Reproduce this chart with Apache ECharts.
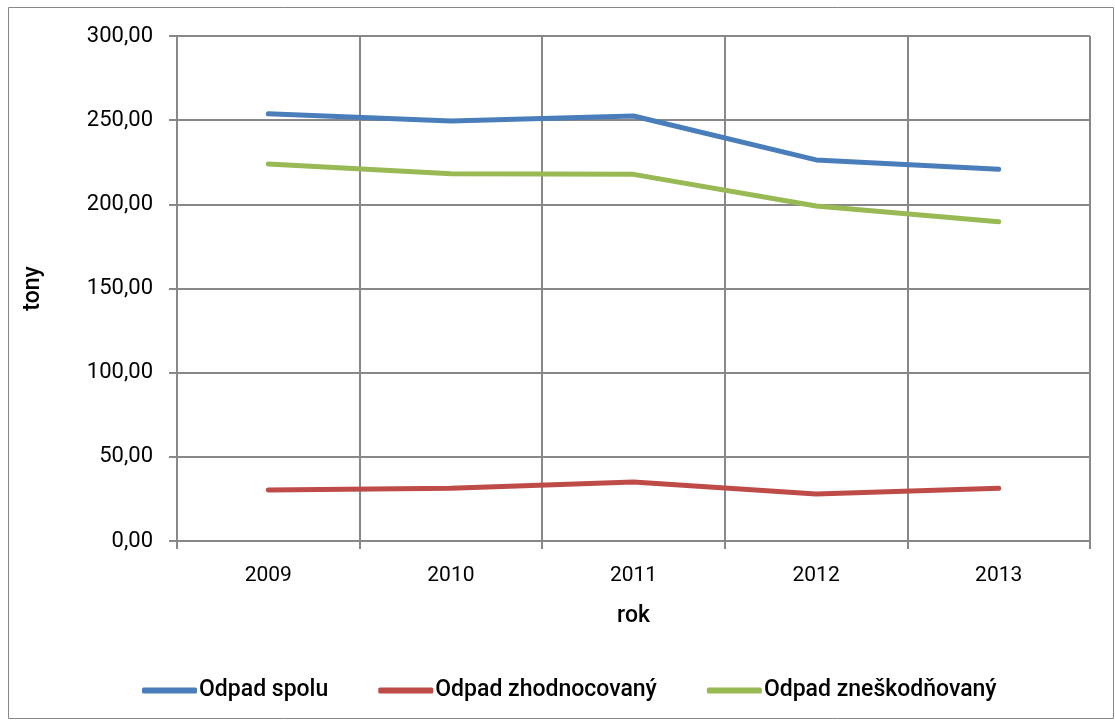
<!DOCTYPE html>
<html><head><meta charset="utf-8">
<script src="https://cdn.jsdelivr.net/npm/echarts@6/dist/echarts.min.js"></script>
<style>html,body{margin:0;padding:0;background:#fff}#c{width:1115px;height:720px}</style>
</head><body><div id="c"></div>
<script>
var categories = ['2009','2010','2011','2012','2013'];
var spolu = [253.8, 249.5, 252.5, 226.4, 220.8];
var zhodnocovany = [30.3, 31.3, 35.1, 27.9, 31.3];
var zneskodnovany = [224.0, 218.2, 217.8, 199.0, 189.7];
var yTicks = {min:0, max:300, interval:50};

var font = 'Roboto';
var chart = echarts.init(document.getElementById('c'));
function ser(name, data, color){
  return {name:name, type:'line', data:data, symbol:'none', smooth:false,
    lineStyle:{width:5, color:color, cap:'round', join:'round'}, itemStyle:{color:color}};
}
chart.setOption({
  animation:false,
  textStyle:{fontFamily:font},
  graphic:[{type:'rect', shape:{x:8.5,y:7.5,width:1105,height:711}, style:{fill:'none', stroke:'#888', lineWidth:1}}],
  grid:{left:177, right:25, top:36, bottom:179},
  legend:{top:674, left:137, itemWidth:55, itemHeight:6, itemGap:50, icon:'roundRect',
    textStyle:{fontFamily:font, fontSize:23, fontWeight:500, color:'#000', padding:[0,0,0,-3]}},
  xAxis:{type:'category', data:categories, boundaryGap:true,
    name:'rok', nameLocation:'middle', nameGap:64, nameTextStyle:{fontSize:23, fontWeight:500, color:'#000', fontFamily:font},
    axisLine:{lineStyle:{color:'#888', width:2}},
    axisTick:{show:true, length:8, lineStyle:{color:'#888', width:2}},
    axisLabel:{margin:24, fontSize:21, color:'#000', fontFamily:font},
    splitLine:{show:true, lineStyle:{color:'#888', width:2}}},
  yAxis:{type:'value', min:yTicks.min, max:yTicks.max, interval:yTicks.interval,
    name:'tony', nameLocation:'middle', nameGap:132, nameRotate:90, nameTextStyle:{fontSize:23, fontWeight:500, color:'#000', fontFamily:font},
    axisLine:{show:true, lineStyle:{color:'#888', width:2}},
    axisTick:{show:true, length:8, lineStyle:{color:'#888', width:2}},
    axisLabel:{margin:24, fontSize:22, color:'#000', fontFamily:font,
      formatter:function(v){return v.toFixed(2).replace('.',',');}},
    splitLine:{show:true, lineStyle:{color:'#888', width:2}}},
  series:[
    ser('Odpad spolu', spolu, '#4A7EBB'),
    ser('Odpad zhodnocovaný', zhodnocovany, '#BE4B48'),
    ser('Odpad zneškodňovaný', zneskodnovany, '#98B954')
  ]
});
</script></body></html>
